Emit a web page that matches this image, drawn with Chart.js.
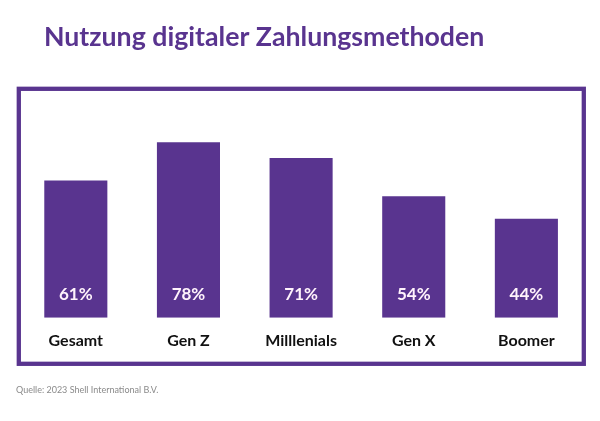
<!DOCTYPE html>
<html>
<head>
<meta charset="utf-8">
<script src="https://cdn.jsdelivr.net/npm/chart.js@4"></script>
<style>
  html, body { margin: 0; padding: 0; background: #fff; }
  #wrap { width: 600px; height: 421px; position: relative; }
</style>
</head>
<body>
<div id="wrap"><canvas id="myChart"></canvas></div>
<script>
const labels = ['Gesamt', 'Gen Z', 'Milllenials', 'Gen X', 'Boomer'];
const values = [61, 78, 71, 54, 44];
const valueLabels = ['61%', '78%', '71%', '54%', '44%'];
const titleText = 'Nutzung digitaler Zahlungsmethoden';
const sourceText = 'Quelle: 2023 Shell International B.V.';

const purple = '#59348f';

// frame, title, source and the % labels inside the bars
const decor = {
  id: 'decor',
  afterDatasetsDraw(chart) {
    const ctx = chart.ctx;
    const a = chart.chartArea;
    ctx.save();

    ctx.strokeStyle = purple;
    ctx.lineWidth = 4.3;
    ctx.strokeRect(a.left - 0.7, a.top - 3.9, a.right - a.left + 1.8, 275);

    ctx.fillStyle = purple;
    ctx.font = 'bold 26.7px Lato';
    ctx.textBaseline = 'alphabetic';
    ctx.textAlign = 'left';
    ctx.fillText(titleText, 44, 46);

    ctx.fillStyle = '#8a8a8a';
    ctx.font = '9px Lato';
    ctx.textBaseline = 'middle';
    ctx.fillText(sourceText, 16, 390);

    ctx.fillStyle = '#fff3fc';
    ctx.font = 'bold 17px Lato';
    ctx.textAlign = 'center';
    chart.getDatasetMeta(0).data.forEach((bar, i) => {
      ctx.fillText(valueLabels[i], bar.x, bar.base - 23);
    });
    ctx.restore();
  }
};

const data = {
  labels: labels,
  datasets: [{
    data: values,
    backgroundColor: purple,
    borderWidth: 0,
    categoryPercentage: 1,
    barPercentage: 0.56,
  }]
};

const config = {
  type: 'bar',
  data,
  options: {
    responsive: false,
    animation: false,
    layout: { padding: { left: 19.5, right: 17.3, top: 92.7, bottom: 58 } },
    plugins: {
      legend: { display: false },
      tooltip: { enabled: false },
    },
    scales: {
      x: {
        grid: { display: false, drawTicks: false },
        border: { display: false },
        ticks: {
          color: '#111',
          font: { family: 'Lato', size: 16, weight: 'bold' },
          padding: 13,
        },
      },
      y: { display: false, min: 0, max: 100 },
    },
  },
  plugins: [decor],
};

const canvas = document.getElementById('myChart');
canvas.width = 600;
canvas.height = 421;
canvas.style.width = '600px';
canvas.style.height = '421px';

var myChart = new Chart(canvas, config);
</script>
</body>
</html>
